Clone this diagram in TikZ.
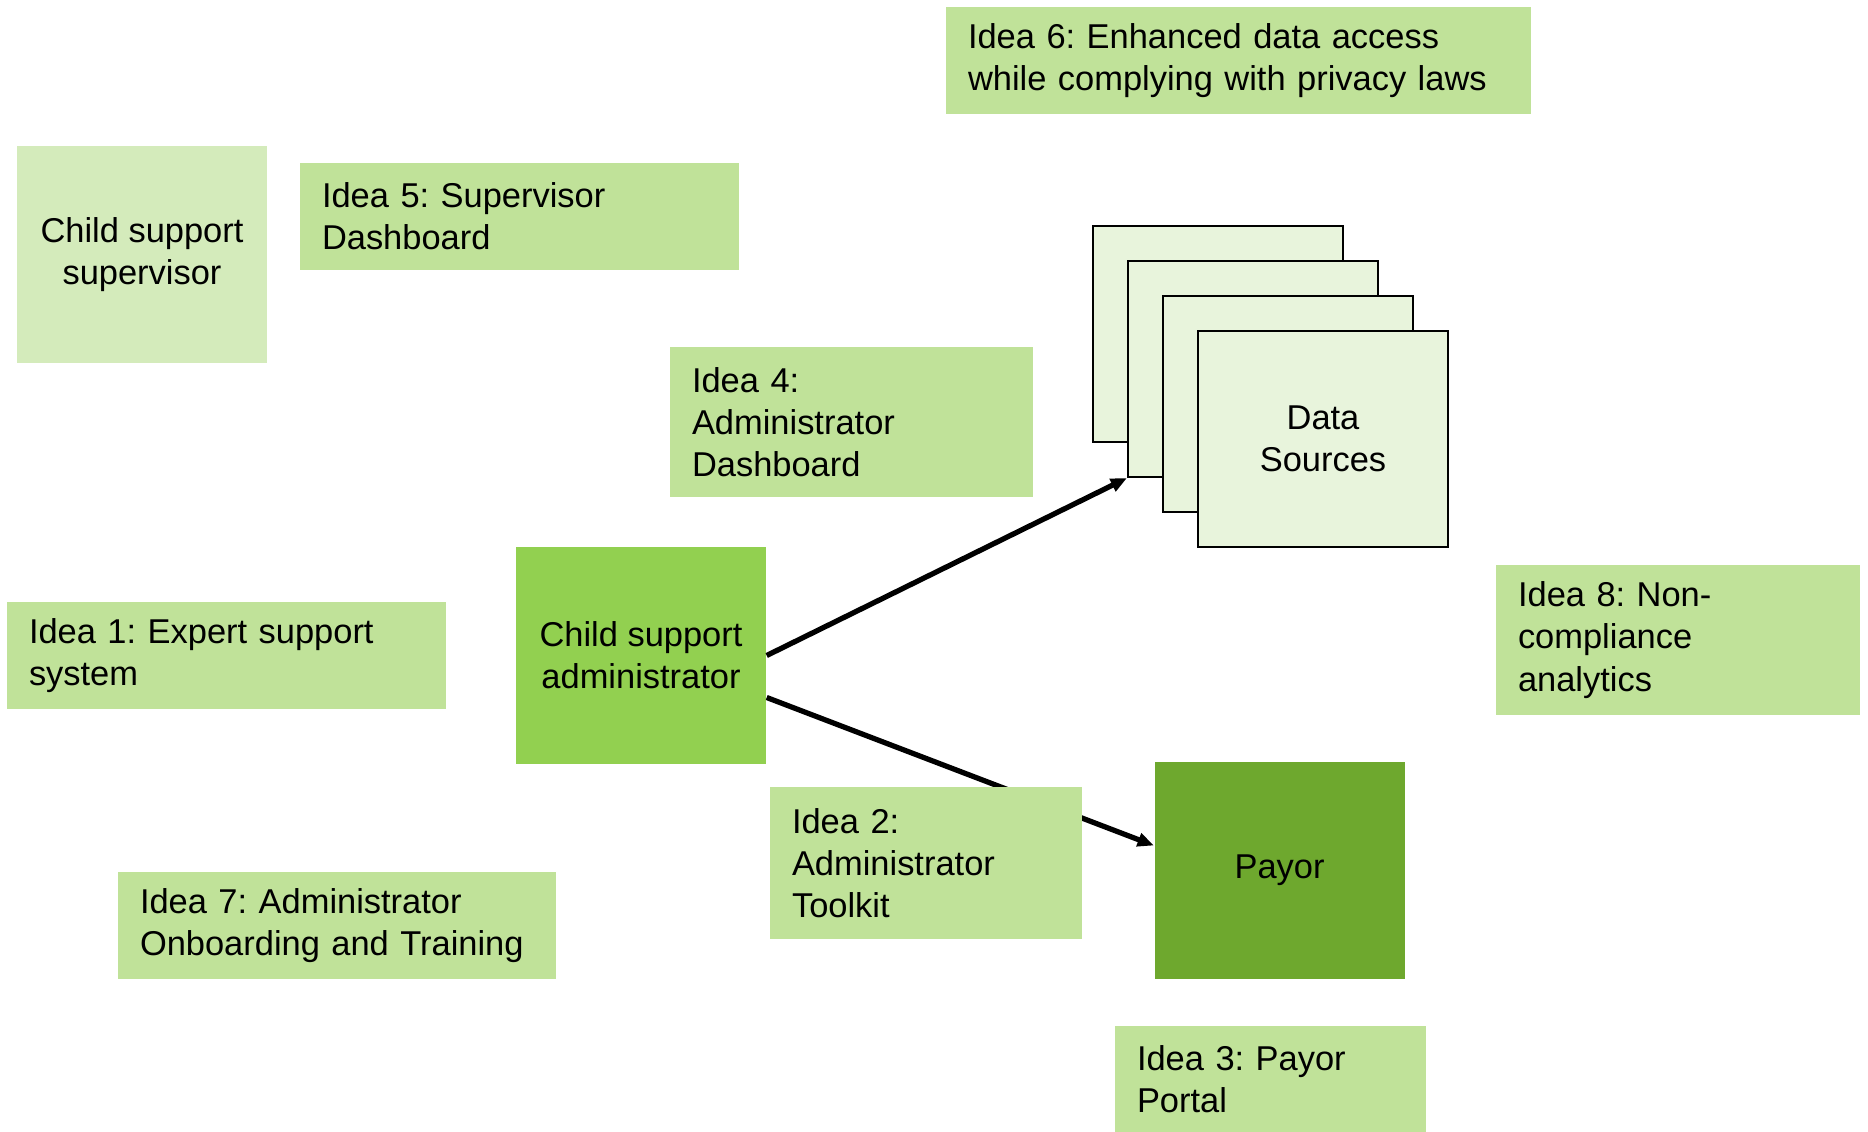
\documentclass[tikz,border=0pt]{standalone}
\usepackage{fontspec}
\setmainfont{Liberation Sans}
\usepackage{tikz}
\usetikzlibrary{arrows.meta,positioning}
\frenchspacing

\definecolor{ideagreen}{RGB}{192,226,153}
\definecolor{supgreen}{RGB}{212,235,187}
\definecolor{admgreen}{RGB}{146,208,80}
\definecolor{paygreen}{RGB}{110,168,46}
\definecolor{datagreen}{RGB}{232,244,220}

\begin{document}
\begin{tikzpicture}[> = {Triangle[length = 4.6pt, width = 3.8pt]},
    idea/.style = {fill = ideagreen, align = left, inner xsep = 0.22cm, font = \fontsize{9.8pt}{12pt}\selectfont},
    actor/.style = {align = center, minimum width = 2.5cm, minimum height = 2.17cm, font = \fontsize{9.8pt}{12pt}\selectfont},
    source/.style = {fill = datagreen, draw, line width = 0.6pt, minimum width = 2.5cm, minimum height = 2.16cm}]
    \fill[white] (0,0) rectangle (18.68,11.31);
    \useasboundingbox (0,0) rectangle (18.68,11.31);
    % actors
    \node at (1.42,8.76) [actor, fill = supgreen] (sup) {Child support\\supervisor};
    \node at (6.41,4.755) [actor, fill = admgreen] (adm) {Child support\\administrator};
    \node at (12.795,2.605) [actor, fill = paygreen] (payor) {Payor};
    % stack of data sources
    \node at (12.18,7.97) [source] (src1) {};
    \node at (12.53,7.62) [source] (src2) {};
    \node at (12.88,7.27) [source] (src3) {};
    \node at (13.23,6.92) [source, align = center, font = \fontsize{9.8pt}{12pt}\selectfont] (src4) {Data\\Sources};
    \draw[->, line width = 1.5pt] (adm.east) -- (src2.south west);
    \draw[->, line width = 1.5pt] (adm.east)++(0,-0.42) -- ([yshift = 0.25cm]payor.west);
    % ideas
    \node at (12.385,10.705) [idea, text width = 5.41cm, minimum height = 1.07cm] (idea6) {Idea 6: Enhanced data access\\while complying with privacy laws};
    \node at (5.195,9.145) [idea, text width = 3.95cm, minimum height = 1.07cm] (idea5) {Idea 5: Supervisor\\Dashboard};
    \node at (8.515,7.09) [idea, text width = 3.19cm, minimum height = 1.5cm] (idea4) {Idea 4:\\Administrator\\Dashboard};
    \node at (2.265,4.755) [idea, text width = 3.95cm, minimum height = 1.07cm] (idea1) {Idea 1: Expert support\\system};
    \node at (16.78,4.91) [idea, text width = 3.2cm, minimum height = 1.5cm] (idea8) {Idea 8: Non-\\compliance\\analytics};
    \node at (9.26,2.68) [idea, text width = 2.68cm, minimum height = 1.52cm] (idea2) {Idea 2:\\Administrator\\Toolkit};
    \node at (3.37,2.055) [idea, text width = 3.94cm, minimum height = 1.07cm] (idea7) {Idea 7: Administrator\\Onboarding and Training};
    \node at (12.705,0.515) [idea, text width = 2.67cm, minimum height = 1.07cm] (idea3) {Idea 3: Payor\\Portal};
  \end{tikzpicture}
\end{document}
